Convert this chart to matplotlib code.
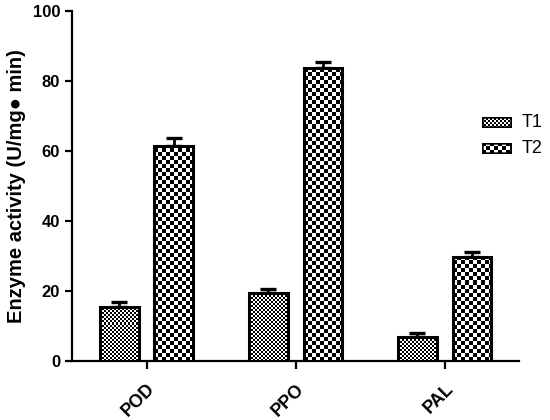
import numpy as np
import matplotlib
matplotlib.use("Agg")
import matplotlib.pyplot as plt
from matplotlib.patches import FancyBboxPatch

categories = ["POD", "PPO", "PAL"]
series_names = ["T1", "T2"]
t1_values = [15.5, 19.3, 6.8]
t1_errors = [1.3, 1.2, 1.2]
t2_values = [61.5, 83.8, 29.8]
t2_errors = [2.2, 1.6, 1.3]
y_ticks = [0, 20, 40, 60, 80, 100]

plt.rcParams['font.family'] = ['Liberation Sans', 'DejaVu Sans']

fig = plt.figure(figsize=(5.5, 4.2), dpi=100)
ax = fig.add_axes([0.131, 0.1405, 0.813, 0.8335])
ax.set_xlim(-0.5, 2.5)
ax.set_ylim(0, 100)

x = np.arange(len(categories))
width = 0.26
offset = 0.183
cell_sizes = [2, 4]


def checker_fill(patch, cell_px):
    fig.canvas.draw()
    bb = patch.get_window_extent()
    nx = int(np.ceil(bb.width / cell_px)) + 1
    ny = int(np.ceil(bb.height / cell_px)) + 1
    ii, jj = np.indices((ny, nx))
    arr = ((ii + jj) % 2).astype(float)
    inv = ax.transData.inverted()
    x0, y0 = inv.transform((bb.x0, bb.y0))
    x1, y1 = inv.transform((bb.x0 + nx * cell_px, bb.y0 + ny * cell_px))
    im = ax.imshow(arr, cmap='gray', extent=(x0, x1, y0, y1), origin='lower',
                   interpolation='nearest', aspect='auto', zorder=patch.get_zorder() - 0.1,
                   vmin=0, vmax=1)
    im.set_clip_path(patch)
    return im


bars_all = []
for k, (vals, errs) in enumerate([(t1_values, t1_errors), (t2_values, t2_errors)]):
    pos = x + (-offset if k == 0 else offset)
    ax.errorbar(pos, vals, yerr=[np.zeros(len(errs)), errs], fmt='none', ecolor='black',
                elinewidth=2.0, capsize=6, capthick=2.4, zorder=2)
    bars = ax.bar(pos, vals, width=width, facecolor='none', edgecolor='black',
                  linewidth=2.2, zorder=3)
    bars_all.append(bars)

ax.set_xlim(-0.5, 2.5)
ax.set_ylim(0, 100)
for k, bars in enumerate(bars_all):
    for b in bars:
        checker_fill(b, cell_sizes[k])
ax.set_xlim(-0.5, 2.5)
ax.set_ylim(0, 100)

for s in ['top', 'right']:
    ax.spines[s].set_visible(False)
for s in ['left', 'bottom']:
    ax.spines[s].set_linewidth(1.6)

ax.set_yticks(y_ticks)
ax.set_yticklabels([str(v) for v in y_ticks], fontsize=12, fontweight='bold')
ax.set_xticks(x)
ax.set_xticklabels(categories, fontsize=13, fontweight='bold', rotation=45,
                   ha='right', va='top', rotation_mode='anchor')
ax.tick_params(axis='both', direction='out', width=1.6, length=5, color='black')
ax.tick_params(axis='x', length=6, pad=8)
ax.set_ylabel("Enzyme activity (U/mg\u25cf min)", fontsize=14.5, fontweight='bold', labelpad=5)

# legend (manual)
sw_w, sw_h = 30, 11
leg_tops = [117, 143]
for k, name in enumerate(series_names):
    fx = 482 / 550
    fy = 1 - (leg_tops[k] + sw_h) / 420
    lax = fig.add_axes([fx, fy, sw_w / 550, sw_h / 420])
    lax.set_xlim(0, 1)
    lax.set_ylim(0, 1)
    lax.axis('off')
    box = FancyBboxPatch((0, 0), 1, 1, boxstyle="round,pad=0,rounding_size=0.12",
                         facecolor='none', edgecolor='black', linewidth=2.4,
                         transform=lax.transAxes, zorder=3, mutation_aspect=sw_w / sw_h)
    lax.add_patch(box)
    c = cell_sizes[k]
    nx = int(sw_w / c) + 1
    ny = int(sw_h / c) + 1
    ii, jj = np.indices((ny, nx))
    arr = ((ii + jj) % 2).astype(float)
    im = lax.imshow(arr, cmap='gray', extent=(0, nx * c / sw_w, 0, ny * c / sw_h), origin='lower',
                    interpolation='nearest', aspect='auto', zorder=2, vmin=0, vmax=1)
    im.set_clip_path(box)
    lax.set_xlim(0, 1)
    lax.set_ylim(0, 1)
    fig.text(522 / 550, fy + sw_h / 420 / 2, name, fontsize=13, va='center', ha='left')

fig.savefig("out.png", dpi=100)
